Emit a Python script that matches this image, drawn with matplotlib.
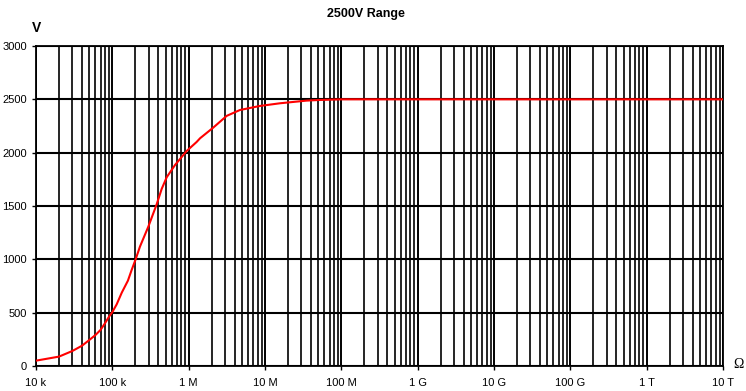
import matplotlib.pyplot as plt
import numpy as np

# test voltage against load resistance, 2500 V range
resistance = [1e4, 2e4, 3e4, 4e4, 5e4, 6e4, 7e4, 8e4, 9e4, 1e5, 1.14e5,
              1.33e5, 1.6e5, 1.79e5, 2.02e5, 2.3e5, 2.96e5, 3.81e5, 4.43e5,
              5.16e5, 6.62e5, 9.42e5, 1.27e6, 1.41e6, 2.1e6, 3.15e6, 4.7e6,
              8.6e6, 1.57e7, 3.5e7, 5.1e7, 1e8, 1e13]
voltage = [50, 88, 141, 190, 244, 290, 338, 400, 460, 505, 578,
           688, 800, 900, 1000, 1119, 1306, 1516, 1660,
           1770, 1884, 2016, 2100, 2135, 2235, 2345, 2400,
           2438, 2463, 2488, 2494, 2500, 2500]

decade_labels = ['10 k', '100 k', '1 M', '10 M', '100 M', '1 G', '10 G',
                 '100 G', '1 T', '10 T']
y_ticks = [0, 500, 1000, 1500, 2000, 2500, 3000]

plt.rcParams['font.family'] = ['Liberation Sans', 'DejaVu Sans']

fig = plt.figure(figsize=(7.46, 3.91), dpi=100)
ax = fig.add_axes([36 / 746, 25 / 391, 687 / 746, 320 / 391])

ax.set_xscale('log')
ax.set_xlim(1e4, 1e13)
ax.set_ylim(0, 3000)

# log grid: every 1..9 step inside each decade
decades = 10.0 ** np.arange(4, 13)
minor = [d * k for d in decades for k in range(2, 10)]
for xv in minor:
    ax.axvline(xv, color='black', lw=1.2, zorder=1)
for xv in list(decades) + [1e13]:
    ax.axvline(xv, color='black', lw=1.4, zorder=1)
for yv in y_ticks:
    ax.axhline(yv, color='black', lw=1.5, zorder=1)

ax.plot(resistance, voltage, color='#ff0000', lw=1.5, zorder=3,
        solid_joinstyle='round')

ax.set_xticks(list(decades) + [1e13])
ax.set_xticklabels(decade_labels)
ax.xaxis.set_minor_locator(plt.NullLocator())
ax.set_yticks(y_ticks)
ax.tick_params(axis='both', labelsize=8, length=3, width=1, color='black',
               pad=6)
ax.tick_params(axis='y', pad=3.5)

for s in ax.spines.values():
    s.set_color('black')
    s.set_linewidth(1.3)

fig.text(366 / 746, 1 - 14 / 391, '2500V Range', ha='center', va='center',
         fontsize=9, fontweight='bold')
fig.text(37 / 746, 1 - 28 / 391, 'V', ha='center', va='center',
         fontsize=10, fontweight='bold')
fig.text(738 / 746, 1 - 365 / 391, 'Ω', ha='center', va='center',
         fontsize=10, family=['Liberation Serif', 'DejaVu Serif'])

fig.savefig('out.png', dpi=100)
